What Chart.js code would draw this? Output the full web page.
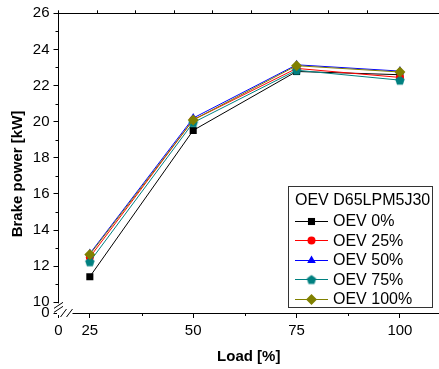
<!DOCTYPE html>
<html>
<head>
<meta charset="utf-8">
<script src="https://cdn.jsdelivr.net/npm/chart.js@4.4.0/dist/chart.umd.min.js"></script>
<style>
  html, body { margin: 0; padding: 0; background: #fff; }
  #wrap { width: 439px; height: 369px; position: relative; }
</style>
</head>
<body>
<div id="wrap"><canvas id="brakeChart"></canvas></div>
<script>
// Datos del gráfico
const loads = [25, 50, 75, 100];
const oev0 = [11.42, 19.52, 22.78, 22.6];
const oev25 = [12.5, 20.1, 22.95, 22.45];
const oev50 = [12.7, 20.2, 23.15, 22.8];
const oev75 = [12.25, 19.95, 22.85, 22.3];
const oev100 = [12.65, 20.1, 23.1, 22.75];
const seriesNames = ['OEV 0%', 'OEV 25%', 'OEV 50%', 'OEV 75%', 'OEV 100%'];
const legendTitle = 'OEV D65LPM5J30';
const xTicks = [25, 50, 75, 100];
const xMinorTicks = [37.5, 62.5, 87.5];
const yTicks = [10, 12, 14, 16, 18, 20, 22, 24, 26];
const yMinorTicks = [11, 13, 15, 17, 19, 21, 23, 25];

// Ejes cortados: el límite inferior se rotula como 0
const xMin = 17.42, xMax = 109.45;
const yMin = 9.41, yMax = 26;

Chart.defaults.font.family = "'Liberation Sans', Arial, sans-serif";
Chart.defaults.color = '#000';

// Marcador pentágono para la serie 75%
function pentagon(color, r) {
    const c = document.createElement('canvas');
    const s = Math.ceil(r * 2 + 2);
    c.width = s; c.height = s;
    const g = c.getContext('2d');
    g.fillStyle = color;
    g.beginPath();
    for (let i = 0; i < 5; i++) {
        const a = -Math.PI / 2 + i * 2 * Math.PI / 5;
        const px = s / 2 + r * Math.cos(a), py = s / 2 + r * Math.sin(a) + 0.5;
        if (i === 0) g.moveTo(px, py); else g.lineTo(px, py);
    }
    g.closePath();
    g.fill();
    return c;
}

const styles = [
    { color: '#000000', point: 'rect', radius: 5 },
    { color: '#ff0000', point: 'circle', radius: 4 },
    { color: '#0000ff', point: 'triangle', radius: 5 },
    { color: '#008080', point: pentagon('#008080', 5), radius: 5 },
    { color: '#808000', point: 'rectRot', radius: 5.5 }
];
const values = [oev0, oev25, oev50, oev75, oev100];

const datasets = values.map((vals, i) => ({
    label: seriesNames[i],
    data: loads.map((x, j) => ({ x: x, y: vals[j] })),
    borderColor: styles[i].color,
    backgroundColor: styles[i].color,
    pointBorderColor: styles[i].color,
    pointBackgroundColor: styles[i].color,
    pointStyle: styles[i].point,
    pointRadius: styles[i].radius,
    pointBorderWidth: 0,
    borderWidth: 1,
    order: values.length - i
}));

// Ticks menores, marcas de corte, título Y y leyenda
const extras = {
    id: 'extras',
    afterDraw(chart) {
        const { ctx, chartArea: a, scales } = chart;
        const x = scales.x, y = scales.y;
        ctx.save();
        ctx.strokeStyle = '#000';
        ctx.lineWidth = 1;
        ctx.beginPath();
        yMinorTicks.forEach(v => {
            const py = Math.round(y.getPixelForValue(v)) + 0.5;
            ctx.moveTo(a.left - 3, py); ctx.lineTo(a.left, py);
        });
        xMinorTicks.forEach(v => {
            const px = Math.round(x.getPixelForValue(v)) + 0.5;
            ctx.moveTo(px, a.bottom); ctx.lineTo(px, a.bottom + 3);
        });
        ctx.stroke();

        // huecos de los cortes
        const y10 = y.getPixelForValue(10);
        ctx.fillStyle = '#fff';
        ctx.fillRect(a.left - 1.5, y10 + 1, 3, a.bottom - y10 + 1);
        ctx.fillRect(a.left - 1, a.bottom - 1.5, 15, 3);
        ctx.beginPath();
        [y10 + 3, y10 + 7].forEach(py => {
            ctx.moveTo(a.left - 4.5, py + 3); ctx.lineTo(a.left + 4.5, py - 3);
        });
        [a.left + 5, a.left + 11].forEach(px => {
            ctx.moveTo(px - 3, a.bottom + 4); ctx.lineTo(px + 3, a.bottom - 4);
        });
        ctx.stroke();

        // título del eje Y
        ctx.fillStyle = '#000';
        ctx.font = "bold 15px 'Liberation Sans', Arial, sans-serif";
        ctx.textAlign = 'center';
        ctx.textBaseline = 'middle';
        ctx.translate(18, 174);
        ctx.rotate(-Math.PI / 2);
        ctx.fillText('Brake power [kW]', 0, 0);
        ctx.restore();

        // leyenda
        ctx.save();
        ctx.strokeStyle = '#333';
        ctx.lineWidth = 1;
        ctx.strokeRect(288.5, 186.5, 144, 121);
        ctx.fillStyle = '#000';
        ctx.font = "16px 'Liberation Sans', Arial, sans-serif";
        ctx.textAlign = 'left';
        ctx.textBaseline = 'middle';
        ctx.fillText(legendTitle, 295, 200.5);
        seriesNames.forEach((name, i) => {
            const ly = 220.5 + i * 19.6;
            const st = styles[i];
            ctx.strokeStyle = st.color;
            ctx.beginPath();
            ctx.moveTo(295, Math.round(ly) + 0.5); ctx.lineTo(328, Math.round(ly) + 0.5);
            ctx.stroke();
            ctx.fillStyle = st.color;
            Chart.helpers.drawPoint(ctx, { pointStyle: st.point, radius: st.radius, borderWidth: 0, rotation: 0 }, 311.5, Math.round(ly) + 0.5);
            ctx.fillStyle = '#000';
            ctx.fillText(name, 333, ly + 1);
        });
        ctx.restore();
    }
};

const tickFont = { size: 15 };

const chart = new Chart(document.getElementById('brakeChart'), {
    type: 'line',
    data: { datasets: datasets },
    options: {
        responsive: true,
        maintainAspectRatio: false,
        animation: false,
        layout: { autoPadding: false, padding: { top: 9.3, right: 0, bottom: 0, left: 0 } },
        plugins: { legend: { display: false }, tooltip: { enabled: false } },
        scales: {
            x: {
                type: 'linear',
                position: 'bottom',
                min: xMin,
                max: xMax,
                afterBuildTicks: s => { s.ticks = [{ value: xMin }].concat(xTicks.map(v => ({ value: v }))); },
                afterFit: s => { s.height = 56; s.paddingRight = 0; s.paddingLeft = 0; },
                ticks: {
                    font: tickFont,
                    padding: 4,
                    maxRotation: 0,
                    callback: v => (v === xMin ? '0' : v)
                },
                grid: { drawOnChartArea: false, tickLength: 5, color: '#000' },
                border: { color: '#000', width: 1 },
                title: {
                    display: true,
                    text: 'Load [%]',
                    font: { size: 15, weight: 'bold' },
                    padding: { top: 0, bottom: 3.5 }
                }
            },
            x2: {
                type: 'linear',
                position: 'top',
                min: 0,
                max: 9.857,
                ticks: { display: false, stepSize: 1 },
                afterFit: s => { s.height = 4; s.paddingRight = 0; s.paddingLeft = 0; },
                grid: { drawOnChartArea: false, tickLength: 3, color: '#000' },
                border: { color: '#000', width: 1 }
            },
            y: {
                type: 'linear',
                min: yMin,
                max: yMax,
                afterBuildTicks: s => { s.ticks = [{ value: yMin }].concat(yTicks.map(v => ({ value: v }))); },
                afterFit: s => { s.width = 58.5; s.paddingTop = 0; s.paddingBottom = 0; },
                ticks: {
                    font: tickFont,
                    padding: 4,
                    callback: v => (v === yMin ? '0' : v)
                },
                grid: { drawOnChartArea: false, tickLength: 5, color: '#000' },
                border: { color: '#000', width: 1 }
            }
        }
    },
    plugins: [extras]
});
</script>
</body>
</html>
